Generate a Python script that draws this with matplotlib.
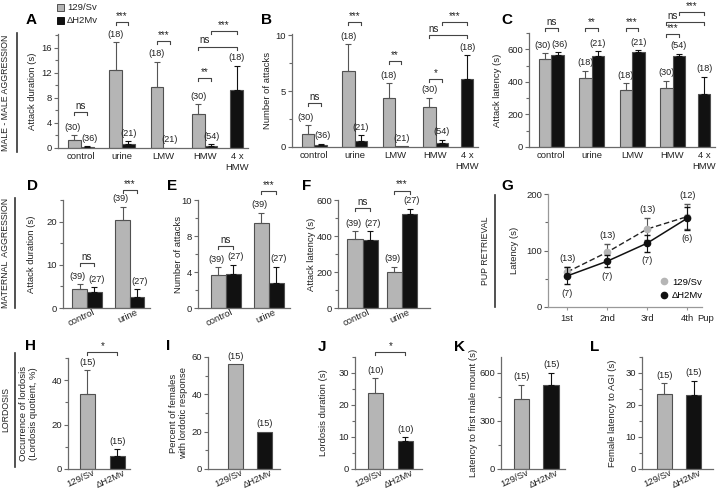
import matplotlib
matplotlib.use("Agg")
import matplotlib.pyplot as plt
import numpy as np
from matplotlib.lines import Line2D
from matplotlib.patches import Rectangle
from matplotlib.transforms import ScaledTranslation

plt.rcParams["font.family"] = ["Liberation Sans", "DejaVu Sans"]
plt.rcParams["font.size"] = 6.8

W, H = 720, 495
GRAY = "#b5b5b5"
BLACK = "#111111"
TXT = "#222222"
SPINE = "#6a6a6a"

# ---------------- data ----------------
male_groups = ["control", "urine", "LMW", "HMW", "4 x\nHMW"]

# A: attack duration (s)
a_wt = [1.2, 12.4, 9.7, 5.5]
a_wt_err = [0.8, 4.5, 4.1, 1.5]
a_ko = [0.2, 0.6, 0.05, 0.3, 9.3]
a_ko_err = [0.1, 0.45, 0.0, 0.3, 3.8]
a_n_wt = ["(30)", "(18)", "(18)", "(30)"]
a_n_ko = ["(36)", "(21)", "(21)", "(54)", "(18)"]

# B: number of attacks
b_wt = [1.15, 6.8, 4.4, 3.6]
b_wt_err = [0.8, 2.4, 1.3, 0.8]
b_ko = [0.2, 0.56, 0.05, 0.38, 6.1]
b_ko_err = [0.1, 0.5, 0.0, 0.25, 2.1]
b_n_wt = ["(30)", "(18)", "(18)", "(30)"]
b_n_ko = ["(36)", "(21)", "(21)", "(54)", "(18)"]

# C: attack latency (s)
c_wt = [542, 423, 351, 361]
c_wt_err = [35, 45, 41, 45]
c_ko = [567, 561, 583, 557, 326]
c_ko_err = [16, 27, 10, 16, 105]
c_n_wt = ["(30)", "(18)", "(18)", "(30)"]
c_n_ko = ["(36)", "(21)", "(21)", "(54)", "(18)"]

maternal_groups = ["control", "urine"]
d_wt, d_wt_err, d_ko, d_ko_err = [4.3, 20.3], [1.2, 3.1], [3.75, 2.6], [1.0, 1.7]
e_wt, e_wt_err, e_ko, e_ko_err = [3.65, 9.5], [0.9, 1.1], [3.8, 2.8], [1.0, 1.8]
f_wt, f_wt_err, f_ko, f_ko_err = [383, 198], [43, 32], [379, 520], [47, 31]
mat_n_wt = ["(39)", "(39)"]
mat_n_ko = ["(27)", "(27)"]

# G: pup retrieval latency
pups = ["1st", "2nd", "3rd", "4th"]
g_wt = [62, 97, 138, 160]
g_wt_err = [8, 14, 19, 22]
g_ko = [55, 81, 113, 157]
g_ko_err = [15, 11, 15, 20]
g_n_wt = ["(13)", "(13)", "(13)", "(12)"]
g_n_ko = ["(7)", "(7)", "(7)", "(6)"]

strains = ["129/Sv", "\u0394H2Mv"]
h_vals, h_err = [34, 6], [10.5, 3]
i_vals = [56, 20]
j_vals, j_err = [23.8, 8.8], [4.6, 1.2]
k_vals, k_err = [435, 522], [93, 80]
l_vals, l_err = [23.5, 23.0], [3.3, 4.6]
n15 = ["(15)", "(15)"]
n10 = ["(10)", "(10)"]

fig = plt.figure(figsize=(W / 100, H / 100), dpi=100)


def px_axes(x0, y0, x1, y1):
    return fig.add_axes([x0 / W, 1 - y1 / H, (x1 - x0) / W, (y1 - y0) / H])


def style(ax, ylim, major, minor, labels=None):
    ax.set_ylim(*ylim)
    for s in ("top", "right"):
        ax.spines[s].set_visible(False)
    for s in ("left", "bottom"):
        ax.spines[s].set_color(SPINE)
        ax.spines[s].set_linewidth(0.9)
    ax.set_yticks(major)
    if labels is not None:
        ax.set_yticklabels(labels)
    ax.set_yticks(minor, minor=True)
    ax.tick_params(axis="y", which="both", direction="out", color=SPINE,
                   labelcolor=TXT, pad=1.2, width=0.8)
    ax.tick_params(axis="y", which="major", length=3)
    ax.tick_params(axis="y", which="minor", length=2)
    ax.tick_params(axis="x", length=0, labelcolor=TXT, pad=3)


def bars(ax, x, vals, errs, color, ecolor, w):
    ax.bar(x, vals, width=w, color=color, edgecolor="#505050", linewidth=0.8, zorder=2)
    x = np.asarray(x, float)
    vals = np.asarray(vals, float)
    errs = np.asarray(errs, float)
    m = errs > 0
    if m.any():
        ax.errorbar(x[m], vals[m], yerr=[np.zeros(m.sum()), errs[m]], fmt="none",
                    ecolor=ecolor, elinewidth=0.8, capsize=2.5, capthick=0.8, zorder=3)


def nlabels(ax, x, tops, labels, dy=2.5, dx=0):
    for xi, t, lab in zip(x, tops, labels):
        ax.annotate(lab, (xi, t), xytext=(dx, dy), textcoords="offset points",
                    ha="center", va="bottom", fontsize=6.6, color=TXT,
                    annotation_clip=False)


def bracket(ax, x1, x2, y, label, lx=None):
    lo, hi = ax.get_ylim()
    dy = (hi - lo) * 3 / ax.bbox.height
    ax.plot([x1, x1, x2, x2], [y - dy, y, y, y - dy], color="#444444", lw=0.8,
            clip_on=False, zorder=4)
    if lx is None:
        lx = (x1 + x2) / 2
    ax.annotate(label, (lx, y), xytext=(0, 0.8), textcoords="offset points",
                ha="center", va="bottom", fontsize=7, color=TXT, annotation_clip=False)


def ylab(ax, text, x_px):
    x0 = ax.get_position().x0 * W
    x1 = ax.get_position().x1 * W
    ax.set_ylabel(text, color=TXT, fontsize=6.8, linespacing=1.1)
    ax.yaxis.set_label_coords((x_px - x0) / (x1 - x0), 0.5)


def rot_labels(ax, labels):
    ax.set_xticklabels(labels, rotation=25, ha="right", rotation_mode="anchor", va="center")
    ax.tick_params(axis="x", pad=1)
    for t in ax.get_xticklabels():
        t.set_transform(t.get_transform() + ScaledTranslation(7 / 100, -2 / 100, fig.dpi_scale_trans))


def letter(x, y, s):
    fig.text(x / W, 1 - y / H, s, fontsize=11, fontweight="bold", ha="center", va="center")


def section(x_text, x_line, y0, y1, text):
    fig.text(x_text / W, 1 - (y0 + y1) / 2 / H, text, rotation=90, ha="center",
             va="center", fontsize=6.3, color=TXT)
    fig.add_artist(Line2D([x_line / W] * 2, [1 - y0 / H, 1 - y1 / H], color="#333333",
                          lw=1.2, transform=fig.transFigure))


# ---------------- row 1: male-male aggression ----------------
bw = 0.31
gx = np.arange(4)
x4 = 3.78
male_x = list(gx) + [x4]


def male_panel(box, wt, wt_err, ko, ko_err, n_wt, n_ko, ylim, major, minor, ylabel, ylx):
    ax = px_axes(*box)
    style(ax, ylim, major, minor)
    ax.set_xlim(-0.55, 4.05)
    bars(ax, gx - bw / 2, wt, wt_err, GRAY, "#555555", bw)
    kx = list(gx + bw / 2) + [x4]
    bars(ax, kx, ko, ko_err, BLACK, BLACK, bw)
    tw = np.add(wt, wt_err)
    tk = np.add(ko, ko_err)
    nlabels(ax, gx[:1] - bw / 2, tw[:1], n_wt[:1], dx=-1.5)
    nlabels(ax, gx[1:] - bw / 2, tw[1:], n_wt[1:])
    nlabels(ax, kx[:1], tk[:1], n_ko[:1], dx=1.5)
    nlabels(ax, kx[1:], tk[1:], n_ko[1:])
    ax.set_xticks(male_x)
    ax.set_xticklabels(male_groups)
    ylab(ax, ylabel, ylx)
    return ax, kx


axA, kx = male_panel((58, 34, 248, 148), a_wt, a_wt_err, a_ko, a_ko_err, a_n_wt, a_n_ko,
                     (0, 18.2), [0, 4, 8, 12, 16], [2, 6, 10, 14, 18],
                     "Attack duration (s)", 37)
bracket(axA, -bw / 2, bw / 2, 5.7, "ns")
bracket(axA, 1 - bw / 2, 1 + bw / 2, 20.1, "***")
bracket(axA, 2 - bw / 2, 2 + bw / 2, 17.1, "***")
bracket(axA, 3 - bw / 2, 3 + bw / 2, 11.2, "**")
bracket(axA, 3 - bw / 2, x4, 16.2, "ns", lx=3.0)
bracket(axA, 3 + bw / 2, x4, 18.7, "***")

axB, _ = male_panel((292, 34, 478, 147), b_wt, b_wt_err, b_ko, b_ko_err, b_n_wt, b_n_ko,
                    (0, 10.1), [0, 5, 10], [2.5, 7.5],
                    "Number of attacks", 272)
bracket(axB, -bw / 2, bw / 2, 3.96, "ns")
bracket(axB, 1 - bw / 2, 1 + bw / 2, 11.2, "***")
bracket(axB, 2 - bw / 2, 2 + bw / 2, 7.7, "**")
bracket(axB, 3 - bw / 2, 3 + bw / 2, 6.1, "*")
bracket(axB, 3 - bw / 2, x4, 10.0, "ns", lx=2.95)
bracket(axB, 3 + bw / 2, x4, 11.2, "***")

axC, _ = male_panel((529, 33, 715, 147), c_wt, c_wt_err, c_ko, c_ko_err, c_n_wt, c_n_ko,
                    (0, 700), [0, 200, 400, 600], [100, 300, 500, 700],
                    "Attack latency (s)", 502)
bracket(axC, -bw / 2, bw / 2, 732, "ns")
bracket(axC, 1 - bw / 2, 1 + bw / 2, 732, "**")
bracket(axC, 2 - bw / 2, 2 + bw / 2, 732, "***")
bracket(axC, 3 - bw / 2, 3 + bw / 2, 691, "***")
bracket(axC, 3 - bw / 2, x4, 767, "ns", lx=3.0)
bracket(axC, 3 + bw / 2, x4, 830, "***")

# ---------------- row 2: maternal aggression ----------------
mx = np.arange(2)


def mat_panel(box, xlim, w, wt, wt_err, ko, ko_err, ylim, major, minor, ylabel, ylx, labels=None):
    ax = px_axes(*box)
    style(ax, ylim, major, minor, labels)
    ax.set_xlim(*xlim)
    bars(ax, mx - w / 2, wt, wt_err, GRAY, "#555555", w)
    bars(ax, mx + w / 2, ko, ko_err, BLACK, BLACK, w)
    nlabels(ax, mx - w / 2, np.add(wt, wt_err), mat_n_wt, dx=-1.5)
    nlabels(ax, mx + w / 2, np.add(ko, ko_err), mat_n_ko, dx=1.5)
    ax.set_xticks(mx)
    rot_labels(ax, maternal_groups)
    ylab(ax, ylabel, ylx)
    return ax


w = 0.34
axD = mat_panel((63, 200, 150, 308), (-0.56, 1.47), w, d_wt, d_wt_err, d_ko, d_ko_err,
                (0, 25), [0, 10, 20], [5, 15, 25], "Attack duration (s)", 36)
bracket(axD, -w / 2, w / 2, 10.5, "ns")
bracket(axD, 1 - w / 2, 1 + w / 2, 27.3, "***")

w = 0.35
axE = mat_panel((198, 200, 290, 308), (-0.64, 1.49), w, e_wt, e_wt_err, e_ko, e_ko_err,
                (0, 12), [0, 4, 8, 12], [2, 6, 10], "Number of attacks", 183,
                labels=["0", "4", "8", "10"])
bracket(axE, -w / 2, w / 2, 6.9, "ns")
bracket(axE, 1 - w / 2, 1 + w / 2, 13.0, "***")

w = 0.39
axF = mat_panel((338, 200, 430, 308), (-0.63, 1.71), w, f_wt, f_wt_err, f_ko, f_ko_err,
                (0, 600), [0, 200, 400, 600], [100, 300, 500], "Attack latency (s)", 316)
bracket(axF, -w / 2, w / 2, 555, "ns")
bracket(axF, 1 - w / 2, 1 + w / 2, 652, "***")

# G: pup retrieval
axG = px_axes(548, 194, 702, 307)
style(axG, (0, 200), [0, 100, 200], [50, 150])
for s in ("left", "bottom"):
    axG.spines[s].set_color("#999999")
px = np.arange(1, 5)
axG.set_xlim(0.52, 4.37)
axG.errorbar(px, g_wt, yerr=g_wt_err, fmt="o", ls="--", dashes=(4, 2), color="#222222",
             mfc=GRAY, mec=GRAY, ms=4.5, ecolor="#555555", elinewidth=0.8, capsize=2,
             lw=1.0, zorder=3)
axG.errorbar(px, g_ko, yerr=g_ko_err, fmt="o-", color=BLACK, ms=4.5, ecolor=BLACK,
             elinewidth=0.8, capsize=2, lw=1.1, zorder=4)
nlabels(axG, px, np.add(g_wt, g_wt_err), g_n_wt, dy=3)
for xi, v, e, lab in zip(px, g_ko, g_ko_err, g_n_ko):
    axG.annotate(lab, (xi, v - e), xytext=(0, -3), textcoords="offset points",
                 ha="center", va="top", fontsize=6.6, color=TXT, annotation_clip=False)
axG.set_xticks(px)
axG.set_xticklabels(pups)
axG.tick_params(axis="x", length=2, color="#999999", pad=3)
axG.annotate("Pup", (4.45, 0), xytext=(0, -5), textcoords="offset points",
             ha="center", va="top", fontsize=6.8, color=TXT, annotation_clip=False)
ylab(axG, "Latency (s)", 519)
leg_handles = [
    Line2D([], [], ls="none", marker="o", color=GRAY, ms=4.5, label="129/Sv"),
    Line2D([], [], ls="none", marker="o", color=BLACK, ms=4.5, label="\u0394H2Mv"),
]
axG.legend(handles=leg_handles, loc="lower right", bbox_to_anchor=(1.03, 0.03),
           frameon=False, handlelength=0.8, handletextpad=0.4, labelspacing=0.45,
           fontsize=6.8, borderaxespad=0)

# ---------------- row 3: lordosis ----------------
sx = np.arange(2)


def lord_panel(box, xlim, w, vals, errs, n, ylim, major, minor, ylabel, ylx):
    ax = px_axes(*box)
    style(ax, ylim, major, minor)
    ax.set_xlim(*xlim)
    ax.bar(sx, vals, width=w, color=[GRAY, BLACK], edgecolor="#505050", linewidth=0.8, zorder=2)
    tops = np.asarray(vals, float)
    if errs is not None:
        ax.errorbar(sx[:1], vals[:1], yerr=[[0], errs[:1]], fmt="none", ecolor="#555555",
                    elinewidth=0.8, capsize=2.5, capthick=0.8, zorder=3)
        ax.errorbar(sx[1:], vals[1:], yerr=[[0], errs[1:]], fmt="none", ecolor=BLACK,
                    elinewidth=0.8, capsize=2.5, capthick=0.8, zorder=3)
        tops = tops + np.asarray(errs, float)
    nlabels(ax, sx, tops, n)
    ax.set_xticks(sx)
    rot_labels(ax, strains)
    ylab(ax, ylabel, ylx)
    return ax


axH = lord_panel((68, 358, 130, 469), (-0.65, 1.42), 0.5, h_vals, h_err, n15,
                 (0, 50), [0, 20, 40], [10, 30, 50],
                 "Occurrence of lordosis\n(Lordosis quotient, %)", 38)
bracket(axH, 0, 1, 52.7, "*")

axI = lord_panel((208, 357, 280, 469), (-0.95, 1.53), 0.52, i_vals, None, n15,
                 (0, 60), [0, 20, 40, 60], [10, 30, 50],
                 "Percent of females\nwith lordotic response", 188)

axJ = lord_panel((355, 357, 422, 469), (-0.68, 1.55), 0.5, j_vals, j_err, n10,
                 (0, 35), [0, 10, 20, 30], [5, 15, 25, 35],
                 "Lordosis duration (s)", 328)
bracket(axJ, 0, 1, 36.6, "*")

axK = lord_panel((501, 357, 565, 469), (-0.69, 1.47), 0.52, k_vals, k_err, n15,
                 (0, 700), [0, 300, 600], [150, 450],
                 "Latency to first male mount (s)", 478)

axL = lord_panel((642, 357, 713, 469), (-0.75, 1.65), 0.5, l_vals, l_err, n15,
                 (0, 35), [0, 10, 20, 30], [5, 15, 25, 35],
                 "Female latency to AGI (s)", 617)

# ---------------- letters, sections, legend ----------------
letter(31, 20, "A")
letter(267, 20, "B")
letter(507, 20, "C")
letter(32, 186, "D")
letter(172, 186, "E")
letter(307, 186, "F")
letter(507, 186, "G")
letter(31, 346, "H")
letter(168, 346, "I")
letter(322, 347, "J")
letter(460, 347, "K")
letter(595, 347, "L")

section(6, 17, 33, 152, "MALE - MALE AGGRESSION")
section(6, 15, 198, 308, "MATERNAL  AGGRESSION")
section(485, 495, 195, 307, "PUP RETRIEVAL")
section(6, 15, 353, 467, "LORDOSIS")

fig.add_artist(Rectangle((57 / W, 1 - 11 / H), 7 / W, 7 / H, facecolor=GRAY,
                         edgecolor="#505050", lw=0.7, transform=fig.transFigure))
fig.add_artist(Rectangle((57 / W, 1 - 24 / H), 7 / W, 7 / H, facecolor=BLACK,
                         edgecolor=BLACK, lw=0.7, transform=fig.transFigure))
fig.text(67 / W, 1 - 7.5 / H, "129/Sv", va="center", ha="left", fontsize=6.8, color=TXT)
fig.text(67 / W, 1 - 20.5 / H, "\u0394H2Mv", va="center", ha="left", fontsize=6.8, color=TXT)

fig.savefig("out.png", dpi=100)
